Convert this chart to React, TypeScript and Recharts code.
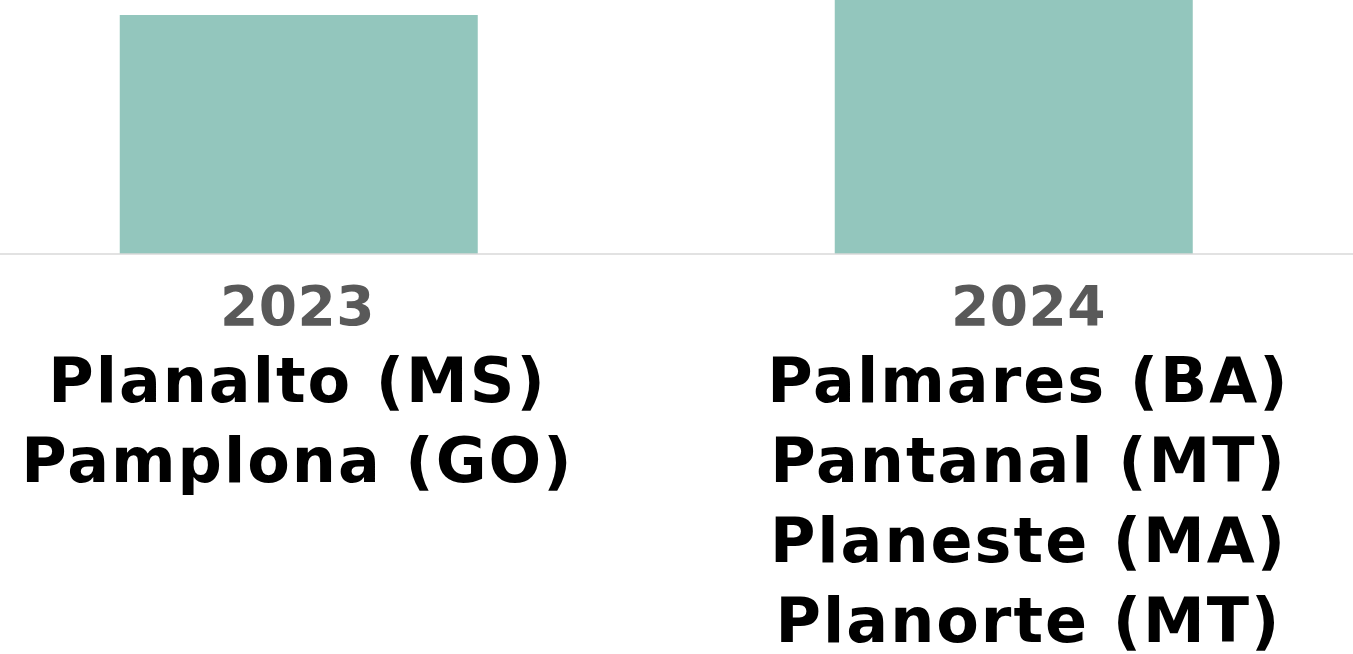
import { BarChart, Bar, XAxis, YAxis } from 'recharts';

const years = ['2023', '2024'];
const counts = [2, 4];
const places = [
  ['Planalto (MS)', 'Pamplona (GO)'],
  ['Palmares (BA)', 'Pantanal (MT)', 'Planeste (MA)', 'Planorte (MT)'],
];

const chartData = years.map((year, i) => ({ year, count: counts[i] }));

function YearTick({ x, y, payload, index }: any) {
  const list = places[index] || [];
  // the second label block sits a little to the right of its bar in the original
  const cx = x + (index === 1 ? 15 : -1);
  return (
    <g fontFamily="DejaVu Sans" fontWeight="bold" textAnchor="middle">
      <text x={cx} y={y + 71} fontSize={55} letterSpacing={0.5} fill="#595959">{payload.value}</text>
      {list.map((p, i) => (
        <text key={p} x={cx} y={y + 148 + i * 80} fontSize={62} letterSpacing={2} fill="#000">{p}</text>
      ))}
    </g>
  );
}

export default function App() {
  return (
    <div style={{ position: 'fixed', inset: 0, overflow: 'hidden', background: '#fff' }}>
      <div style={{ position: 'absolute', left: -59, top: -224 }}>
        <BarChart width={1430} height={878} data={chartData} margin={{ top: 0, right: 0, bottom: 0, left: 0 }} barCategoryGap="25%">
          <XAxis
            dataKey="year"
            height={400}
            tickLine={false}
            tickSize={0}
            tickMargin={0}
            axisLine={{ stroke: '#d9d9d9', strokeWidth: 1.5 }}
            tick={<YearTick />}
            interval={0}
          />
          <YAxis hide domain={[0, 4]} />
          <Bar dataKey="count" fill="#93c6bd" isAnimationActive={false} />
        </BarChart>
      </div>
    </div>
  );
}
